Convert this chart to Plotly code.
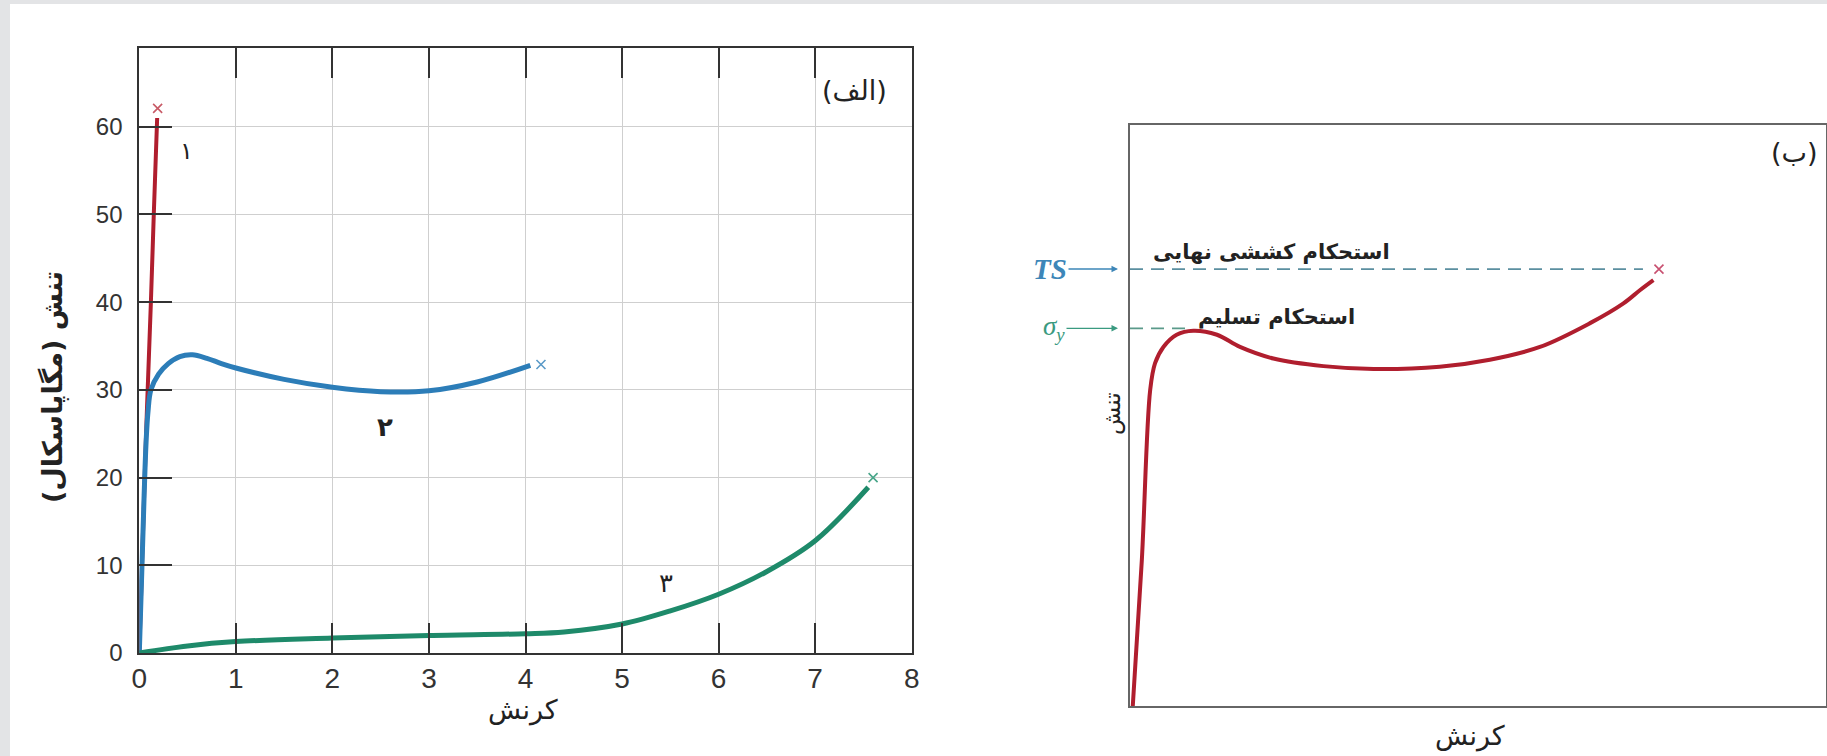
import plotly.graph_objects as go

W, H = 1827, 756

# ---------------- Panel (a) data : strain vs stress (MPa) ----------------
strain_1 = [0, 0.05, 0.08, 0.12, 0.15, 0.185]
stress_1 = [0, 18, 28, 40, 50, 61]

strain_2 = [0, 0.05, 0.07, 0.09, 0.12, 0.2, 0.3, 0.42, 0.55, 0.7, 0.85, 1.0, 1.5, 2.0, 2.5, 3.0, 3.5, 4.05]
stress_2 = [0, 18, 24, 27.5, 30, 31.8, 33.0, 33.8, 34.0, 33.6, 33.0, 32.5, 31.2, 30.3, 29.8, 29.9, 30.9, 32.8]

strain_3 = [0, 0.5, 1, 2, 3, 4, 4.4, 5, 5.5, 6, 6.5, 7, 7.55]
stress_3 = [0, 0.8, 1.3, 1.7, 2.0, 2.2, 2.4, 3.3, 4.8, 6.7, 9.3, 12.8, 18.9]

break_strain = [0.19, 4.16, 7.6]
break_stress = [62.1, 32.9, 20.0]

x_ticks = [0, 1, 2, 3, 4, 5, 6, 7, 8]
y_ticks = [0, 10, 20, 30, 40, 50, 60]
ksi_major = [2, 4, 6, 8]
ksi_minor = [1, 3, 5, 7, 9]

# ---------------- Panel (b) data : schematic curve ----------------
strain_b = [0.4, 1.7, 2.9, 3.6, 4.8, 6.7, 9.1, 12.5, 15.8, 20.6, 27.8, 35.0, 44.5, 51.7, 58.9, 66.1, 70.9, 73.3, 75.2]
stress_b = [0, 25.1, 54.4, 59.0, 61.8, 63.9, 64.6, 63.9, 61.8, 59.8, 58.5, 58.0, 58.4, 59.6, 61.8, 65.9, 69.3, 71.6, 73.3]
break_b = [76.0]
break_b_stress = [75.2]
ts_level = 75.2
ts_end = 73.7
yield_level = 65.0
yield_end = 8.6

RED, BLUE, GREEN = "#b01e2e", "#2c7db8", "#1e8a6a"
AR = "DejaVu Sans"

fig = go.Figure()

# panel (a) curves
for sx, sy, col, w in [(strain_1, stress_1, RED, 4), (strain_2, stress_2, BLUE, 5), (strain_3, stress_3, GREEN, 5)]:
    fig.add_trace(go.Scatter(x=sx, y=sy, mode="lines", line=dict(color=col, width=w, shape="spline", smoothing=1.0),
                             xaxis="x", yaxis="y", hoverinfo="skip"))
fig.add_trace(go.Scatter(x=break_strain, y=break_stress, mode="markers",
                         marker=dict(symbol="x-thin", size=9, line=dict(width=1.6, color=["#c85a66", "#5a9ac8", "#4aa68a"])),
                         xaxis="x", yaxis="y", hoverinfo="skip"))

# panel (b)
fig.add_trace(go.Scatter(x=[0, ts_end], y=[ts_level, ts_level], mode="lines",
                         line=dict(color="#5b8fa0", width=1.6, dash="13px,8px"), xaxis="x2", yaxis="y2", hoverinfo="skip"))
fig.add_trace(go.Scatter(x=[0, yield_end], y=[yield_level, yield_level], mode="lines",
                         line=dict(color="#5a9a8a", width=1.6, dash="13px,8px"), xaxis="x2", yaxis="y2", hoverinfo="skip"))
fig.add_trace(go.Scatter(x=strain_b, y=stress_b, mode="lines",
                         line=dict(color=RED, width=4, shape="spline", smoothing=1.0), xaxis="x2", yaxis="y2", hoverinfo="skip"))
fig.add_trace(go.Scatter(x=break_b, y=break_b_stress, mode="markers",
                         marker=dict(symbol="x-thin", size=9, line=dict(width=1.6, color="#c85070")),
                         xaxis="x2", yaxis="y2", hoverinfo="skip"))

tickfont_x = dict(family="Liberation Sans", size=28, color="#333")
tickfont_y = dict(family="Liberation Sans", size=24, color="#333")

fig.update_layout(
    width=W, height=H, margin=dict(l=0, r=0, t=0, b=0, autoexpand=False),
    paper_bgcolor="white", plot_bgcolor="white", showlegend=False,
    xaxis=dict(domain=[139.3 / W, 911.7 / W], range=[0, 8], tickvals=x_ticks, ticks="inside", ticklen=30,
               tickwidth=2, tickcolor="#333", showline=True, linecolor="#333", linewidth=2, mirror="ticks",
               showgrid=True, gridcolor="#cfcfcf", gridwidth=1, zeroline=False, tickfont=tickfont_x,
               anchor="y", ticklabelstandoff=-1, automargin=False),
    yaxis=dict(domain=[1 - 653 / H, 1 - 48.3 / H], range=[0, 68.95], tickvals=y_ticks, ticks="inside", ticklen=33,
               tickwidth=2, tickcolor="#333", showline=True, linecolor="#333", linewidth=2, mirror=True,
               showgrid=True, gridcolor="#cfcfcf", gridwidth=1, zeroline=False, tickfont=tickfont_y,
               anchor="x", ticklabelstandoff=10, automargin=False),
    yaxis3=dict(overlaying="y", anchor="x", side="right", range=[0, 10], tickvals=ksi_major, ticks="inside",
                ticklen=35, tickwidth=2, tickcolor="#333", showticklabels=False, showgrid=False, zeroline=False,
                showline=False, automargin=False),
    yaxis4=dict(overlaying="y", anchor="x", side="right", range=[0, 10], tickvals=ksi_minor, ticks="inside",
                ticklen=23, tickwidth=2, tickcolor="#333", showticklabels=False, showgrid=False, zeroline=False,
                showline=False, automargin=False),
    xaxis2=dict(domain=[1130 / W, 1826 / W], range=[0, 100], showticklabels=False, ticks="", showgrid=False,
                zeroline=False, showline=True, linecolor="#666", linewidth=2, mirror=True, anchor="y2",
                automargin=False),
    yaxis2=dict(domain=[1 - 706 / H, 1 - 125 / H], range=[0, 100], showticklabels=False, ticks="", showgrid=False,
                zeroline=False, showline=True, linecolor="#666", linewidth=2, mirror=True, anchor="x2",
                automargin=False),
    shapes=[
        dict(type="rect", xref="paper", yref="paper", x0=0, x1=10 / W, y0=0, y1=1, fillcolor="#e3e4e6",
             line=dict(width=0), layer="below"),
        dict(type="rect", xref="paper", yref="paper", x0=0, x1=1, y0=1 - 4 / H, y1=1, fillcolor="#e3e4e6",
             line=dict(width=0), layer="below"),
    ],
)

ann = []
def a(text, x, y, xref, yref, size, bold=False, angle=0, color="#222", family=AR):
    t = f"<b>{text}</b>" if bold else text
    ann.append(dict(text=t, x=x, y=y, xref=xref, yref=yref, showarrow=False, textangle=angle,
                    font=dict(family=family, size=size, color=color), xanchor="center", yanchor="middle"))

a("۱", 0.49, 57.2, "x", "y", 24)
a("۲", 2.54, 25.8, "x", "y", 26, bold=True)
a("۳", 5.46, 8.0, "x", "y", 26)
a("(الف)", 7.41, 64.1, "x", "y", 27)
a("تنش (مگاپاسکال)\u200f", 53 / W, 1 - 387 / H, "paper", "paper", 27, bold=True, angle=-90)
a("کرنش", 523 / W, 1 - 710 / H, "paper", "paper", 27)

a("استحکام کششی نهایی", 20.3, 78.2, "x2", "y2", 21, bold=True)
a("استحکام تسلیم", 21.0, 67.0, "x2", "y2", 21, bold=True)
a("(ب)", 1794 / W, 1 - 152 / H, "paper", "paper", 27)
a("تنش", 1112 / W, 1 - 414 / H, "paper", "paper", 23, angle=-90)
a("کرنش", 1470 / W, 1 - 736 / H, "paper", "paper", 27)

ann.append(dict(text="<b><i>TS</i></b>", x=1118 / W, y=1 - 269 / H, xref="paper", yref="paper", ax=-68, ay=0,
                showarrow=True, arrowhead=2, arrowsize=1, arrowwidth=1.3, arrowcolor="#3d86b8",
                font=dict(family="Liberation Serif", size=29, color="#3d86b8")))
ann.append(dict(text="<i>σ<sub>y</sub></i>", x=1118 / W, y=1 - 328.3 / H, xref="paper", yref="paper", ax=-64, ay=0,
                showarrow=True, arrowhead=2, arrowsize=1, arrowwidth=1.3, arrowcolor="#3a9a80",
                font=dict(family="Liberation Serif", size=27, color="#3a9a80")))
fig.update_layout(annotations=ann)

fig.write_html("out.html")
